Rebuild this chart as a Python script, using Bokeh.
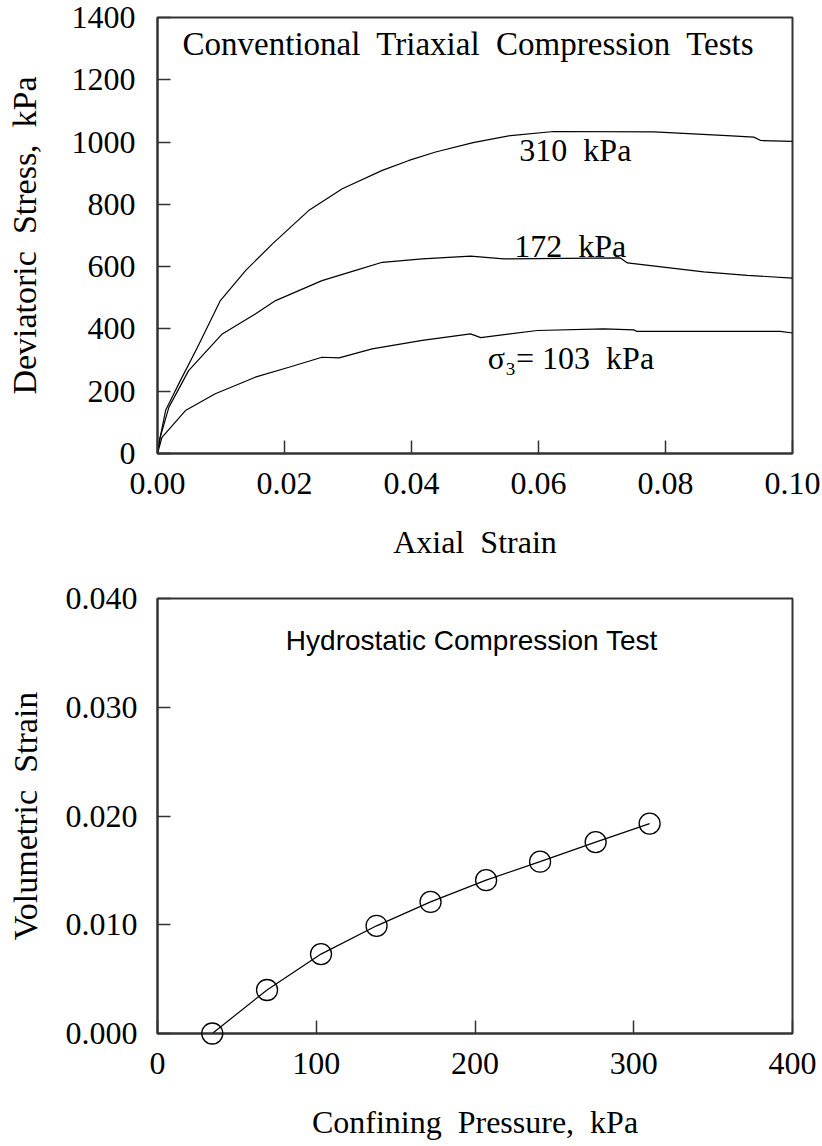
from bokeh.plotting import figure
from bokeh.layouts import column
from bokeh.models import Range1d, FixedTicker, NumeralTickFormatter, Label
from bokeh.embed import file_html
from bokeh.resources import INLINE

# ---- Top panel data: conventional triaxial compression tests ----
strain_310 = [0.0, 0.0004, 0.0013, 0.0036, 0.0063, 0.0099, 0.0139, 0.0181, 0.0238, 0.0291,
              0.0354, 0.0396, 0.0438, 0.0497, 0.0556, 0.0624, 0.0782, 0.0897, 0.0939, 0.0950,
              0.1]
stress_310 = [0, 50, 140, 234, 341, 491, 588, 673, 780, 850,
              909, 941, 968, 998, 1021, 1034, 1033, 1021, 1016, 1005,
              1002]

strain_172 = [0.0, 0.0004, 0.0018, 0.0049, 0.0102, 0.0154, 0.0186, 0.0259, 0.0312, 0.0354,
              0.0417, 0.0493, 0.0545, 0.0729, 0.0740, 0.0860, 0.0929, 0.1]
stress_172 = [0, 50, 149, 266, 384, 448, 491, 555, 588, 614,
              625, 634, 625, 628, 612, 583, 572, 563]

strain_103 = [0.0, 0.0007, 0.0044, 0.0091, 0.0154, 0.0207, 0.0259, 0.0286, 0.0338, 0.0417,
              0.0493, 0.0509, 0.0598, 0.0703, 0.0750, 0.0755, 0.0981, 0.1]
stress_103 = [0, 52, 138, 192, 245, 277, 309, 307, 336, 363,
              384, 372, 395, 400, 397, 392, 392, 387]

top_x_ticks = [0.0, 0.02, 0.04, 0.06, 0.08, 0.10]
top_y_ticks = [0, 200, 400, 600, 800, 1000, 1200, 1400]

# ---- Bottom panel data: hydrostatic compression test ----
pressure = [34.5, 69, 103, 138, 172, 207, 241, 276, 310]
vol_strain = [0.0, 0.0040, 0.0073, 0.0099, 0.0121, 0.0141, 0.0158, 0.0176, 0.0193]

bot_x_ticks = [0, 100, 200, 300, 400]
bot_y_ticks = [0.0, 0.01, 0.02, 0.03, 0.04]

SERIF = "Liberation Serif"
SANS = "Liberation Sans"
FRAME = "#333333"
SP = "\u00a0 "  # wide word gap as in the original


def style(p, ylab_standoff):
    p.background_fill_color = "white"
    p.border_fill_color = "white"
    p.outline_line_color = FRAME
    p.outline_line_width = 2
    p.xgrid.visible = False
    p.ygrid.visible = False
    for ax in (p.xaxis[0], p.yaxis[0]):
        ax.axis_line_color = FRAME
        ax.axis_line_width = 2
        ax.major_tick_line_color = FRAME
        ax.major_tick_line_width = 1.5
        ax.major_tick_in = 13
        ax.major_tick_out = 0
        ax.minor_tick_line_color = None
        ax.major_label_text_font = SERIF
        ax.major_label_text_font_size = "32px"
        ax.major_label_text_color = "black"
        ax.axis_label_text_font = SERIF
        ax.axis_label_text_font_size = "32px"
        ax.axis_label_text_font_style = "normal"
        ax.axis_label_text_color = "black"
    p.yaxis[0].axis_label_text_font_size = "34px"
    p.xaxis[0].major_label_standoff = 19
    p.yaxis[0].major_label_standoff = ylab_standoff


# ---- Top figure ----
p1 = figure(width=822, height=573, output_backend="svg", toolbar_location=None,
            x_range=Range1d(0, 0.1), y_range=Range1d(0, 1400),
            min_border_left=157, min_border_right=30, min_border_top=17, min_border_bottom=120)
style(p1, 22)
p1.xaxis[0].ticker = FixedTicker(ticks=top_x_ticks)
p1.yaxis[0].ticker = FixedTicker(ticks=top_y_ticks)
p1.xaxis[0].formatter = NumeralTickFormatter(format="0.00")
p1.yaxis[0].formatter = NumeralTickFormatter(format="0")
p1.xaxis[0].axis_label = "Axial" + SP + "Strain"
p1.yaxis[0].axis_label = "Deviatoric" + SP + "Stress," + SP + "kPa"
p1.xaxis[0].axis_label_standoff = 27
p1.yaxis[0].axis_label_standoff = 26

for xs, ys in ((strain_310, stress_310), (strain_172, stress_172), (strain_103, stress_103)):
    p1.line(xs, ys, line_color="black", line_width=1.2)

lab_kw = dict(text_font=SERIF, text_font_size="32px", text_align="center",
              text_baseline="middle", text_color="black")
p1.add_layout(Label(x=0.0490, y=1316, text="Conventional" + SP + "Triaxial" + SP + "Compression" + SP + "Tests",
                    text_font=SERIF, text_font_size="33px", text_align="center",
                    text_baseline="middle", text_color="black"))
p1.add_layout(Label(x=0.0658, y=976, text="310" + SP + "kPa", **lab_kw))
p1.add_layout(Label(x=0.0650, y=665, text="172" + SP + "kPa", **lab_kw))
p1.add_layout(Label(x=0.0651, y=308, text="σ₃= 103" + SP + "kPa", **lab_kw))

# ---- Bottom figure ----
p2 = figure(width=822, height=573, output_backend="svg", toolbar_location=None,
            x_range=Range1d(0, 400), y_range=Range1d(0, 0.04),
            min_border_left=157, min_border_right=30, min_border_top=25, min_border_bottom=113)
style(p2, 20)
p2.xaxis[0].ticker = FixedTicker(ticks=bot_x_ticks)
p2.yaxis[0].ticker = FixedTicker(ticks=bot_y_ticks)
p2.xaxis[0].formatter = NumeralTickFormatter(format="0")
p2.yaxis[0].formatter = NumeralTickFormatter(format="0.000")
p2.xaxis[0].axis_label = "Confining" + SP + "Pressure," + SP + "kPa"
p2.yaxis[0].axis_label = "Volumetric" + SP + "Strain"
p2.xaxis[0].axis_label_standoff = 27
p2.yaxis[0].axis_label_standoff = 19

p2.line(pressure, vol_strain, line_color="black", line_width=1.2)
p2.scatter(pressure, vol_strain, marker="circle", size=21, fill_color=None,
           line_color="black", line_width=1.3, level="overlay")
p2.add_layout(Label(x=198, y=0.03614, text="Hydrostatic Compression Test",
                    text_font=SANS, text_font_size="28px", text_align="center",
                    text_baseline="middle", text_color="black"))

layout = column(p1, p2, spacing=0)
open("out.html", "w").write(file_html(layout, INLINE))
